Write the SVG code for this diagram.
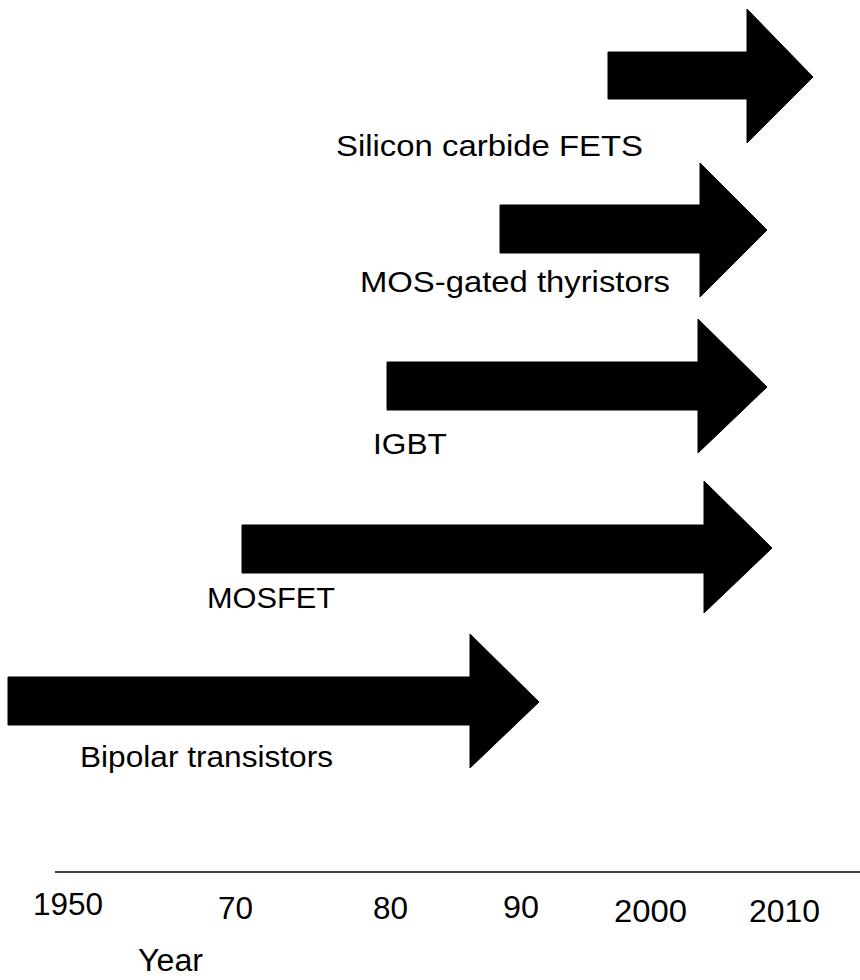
<svg xmlns="http://www.w3.org/2000/svg" width="860" height="980" viewBox="0 0 860 980">
<style>
.arrow{fill:#000;stroke:#000;stroke-width:1;stroke-linejoin:round}
.lbl{font-family:"Liberation Sans",Arial,Helvetica,sans-serif;font-size:30px;fill:#000}
.yr{font-family:"Liberation Sans",Arial,Helvetica,sans-serif;font-size:31px;fill:#000}
.axis{stroke:#000;stroke-width:1.6;fill:none}
</style>
<rect width="860" height="980" fill="#fff"/>
<g id="sic">
<path class="arrow" d="M608,52 H747 V9 L813,77 L747,143 V99 H608 Z"/>
<text class="lbl" x="336" y="156" textLength="307" lengthAdjust="spacingAndGlyphs">Silicon carbide FETS</text>
</g>
<g id="mosgated">
<path class="arrow" d="M500,205 H700 V163 L767,230 L700,297 V253 H500 Z"/>
<text class="lbl" x="360" y="292" textLength="310" lengthAdjust="spacingAndGlyphs">MOS-gated thyristors</text>
</g>
<g id="igbt">
<path class="arrow" d="M387,362 H698 V319 L767,387 L698,453 V410 H387 Z"/>
<text class="lbl" x="373" y="454" textLength="74" lengthAdjust="spacingAndGlyphs">IGBT</text>
</g>
<g id="mosfet">
<path class="arrow" d="M242,525 H704 V481 L772,548 L704,613 V573 H242 Z"/>
<text class="lbl" x="207" y="608" textLength="128" lengthAdjust="spacingAndGlyphs">MOSFET</text>
</g>
<g id="bipolar">
<path class="arrow" d="M8,677 H470 V634 L539,702 L470,768 V725 H8 Z"/>
<text class="lbl" x="80" y="767" textLength="253" lengthAdjust="spacingAndGlyphs">Bipolar transistors</text>
</g>
<g id="axis">
<line class="axis" x1="55" y1="872" x2="860" y2="872"/>
<text class="yr" x="33" y="915" textLength="70" lengthAdjust="spacingAndGlyphs">1950</text>
<text class="yr" x="218" y="919" textLength="35" lengthAdjust="spacingAndGlyphs">70</text>
<text class="yr" x="373" y="919" textLength="35" lengthAdjust="spacingAndGlyphs">80</text>
<text class="yr" x="503" y="918" textLength="36" lengthAdjust="spacingAndGlyphs">90</text>
<text class="yr" x="614" y="922" textLength="73" lengthAdjust="spacingAndGlyphs">2000</text>
<text class="yr" x="749" y="922" textLength="71" lengthAdjust="spacingAndGlyphs">2010</text>
<text class="yr" x="138" y="971" textLength="65" lengthAdjust="spacingAndGlyphs">Year</text>
</g>
</svg>
